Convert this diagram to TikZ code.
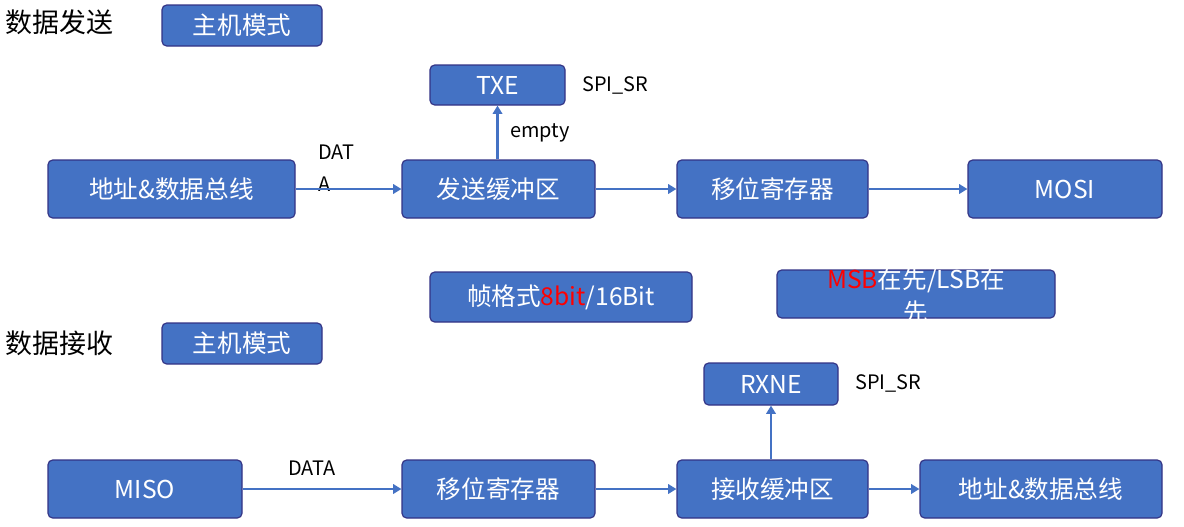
\documentclass[tikz,border=0pt]{standalone}
\usepackage{fontspec}
\setmainfont{Noto Sans CJK SC}
\begin{document}
\begin{tikzpicture}[x=0.03cm,y=-0.03cm,
 box/.style={draw=blue!40!black!80,line width=1pt,fill={rgb,255:red,68;green,114;blue,196},rounded corners=4pt,text=white,font=\fontsize{21}{24}\selectfont,inner sep=0pt},
 lab/.style={font=\fontsize{17}{20}\selectfont,inner sep=0pt},
 ttl/.style={font=\fontsize{23}{26}\selectfont,inner sep=0pt},
 arr/.style={draw={rgb,255:red,68;green,114;blue,196},line width=2.2pt,-{Triangle[length=7pt,width=8pt]}}]
\usetikzlibrary{arrows.meta}
\useasboundingbox (0,0) rectangle (1184,526);
\newcommand\bx[6]{\node[box,minimum width={(#4-#2)*0.03cm},minimum height={(#5-#3)*0.03cm}] (#1) at ({(#2+#4)/2},{(#3+#5)/2}) {#6};}
\node[ttl,anchor=west] (t1) at (5,22) {数据发送};
\bx{m1}{162}{5}{322}{46}{主机模式}
\bx{txe}{430}{65}{565}{105}{TXE}
\node[lab,anchor=west] (s1) at (582,85) {SPI\_SR};
\bx{a1}{48}{160}{295}{218}{地址\&数据总线}
\bx{b1}{402}{160}{595}{218}{发送缓冲区}
\bx{c1}{677}{160}{868}{218}{移位寄存器}
\bx{d1}{968}{160}{1162}{218}{MOSI}
\node[lab,anchor=west] (dl1) at (318,152) {DAT};
\node[lab,anchor=west] (dl2) at (318,184) {A};
\node[lab,anchor=west] (em) at (510,133) {empty};
\draw[arr] (a1) -- (b1);
\draw[arr] (b1) -- (c1);
\draw[arr] (c1) -- (d1);
\draw[arr] (b1.north -| txe.south) -- (txe.south);
\bx{f}{430}{272}{692}{322}{帧格式{\color{red}8bit}/16Bit}
\bx{g}{777}{270}{1055}{318}{}
\node[text=white,font=\fontsize{21}{24}\selectfont,inner sep=0pt] (g1) at (916,280) {{\color{red}MSB}在先/LSB在};
\begin{scope}
\clip (777,270) rectangle (1055,318);
\node[text=white,font=\fontsize{21}{24}\selectfont,inner sep=0pt] (g2) at (916,312) {先};
\end{scope}
\node[ttl,anchor=west] (t2) at (5,343) {数据接收};
\bx{m2}{162}{323}{322}{364}{主机模式}
\bx{rx}{704}{363}{838}{405}{RXNE}
\node[lab,anchor=west] (s2) at (855,383) {SPI\_SR};
\bx{a2}{48}{460}{242}{518}{MISO}
\bx{b2}{402}{460}{595}{518}{移位寄存器}
\bx{c2}{677}{460}{868}{518}{接收缓冲区}
\bx{d2}{920}{460}{1162}{518}{地址\&数据总线}
\node[lab,anchor=west] (dl3) at (288,468) {DATA};
\draw[arr] (a2) -- (b2);
\draw[arr] (b2) -- (c2);
\draw[arr] (c2) -- (d2);
\draw[arr] (c2.north -| rx.south) -- (rx.south);
\end{tikzpicture}
\end{document}
